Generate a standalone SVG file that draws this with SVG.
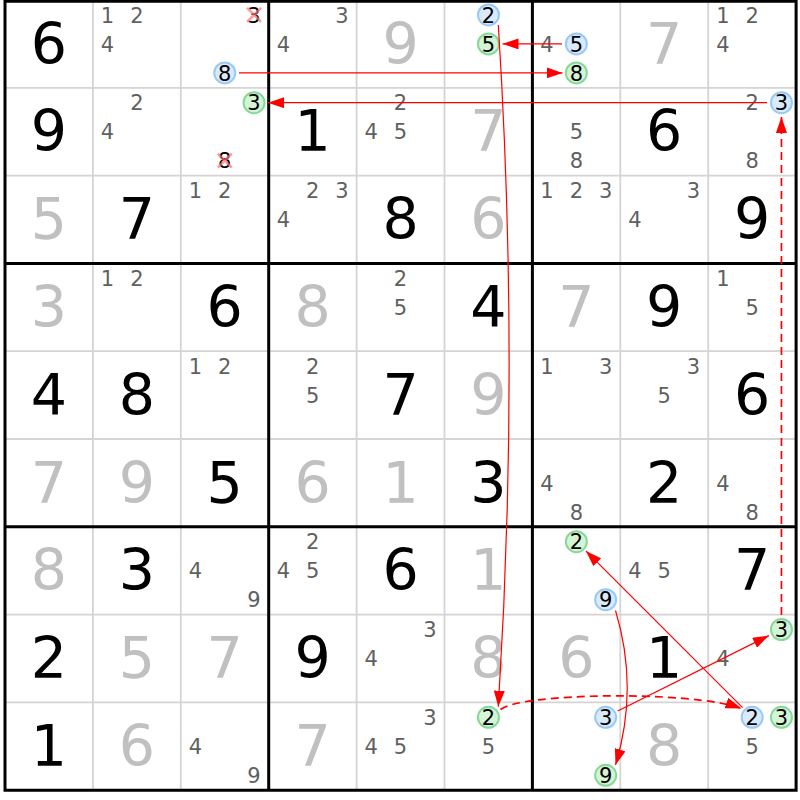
<svg xmlns="http://www.w3.org/2000/svg" width="800" height="800" viewBox="0 0 800 800">
<style>
text{font-family:"DejaVu Sans",Verdana,sans-serif;text-anchor:middle}
.g{font-size:57px;fill:#000}
.s{font-size:57px;fill:#c0c0c0}
.c{font-size:21px;fill:#606060}
.h{font-size:21px;fill:#000}
.cb{fill:#d8eafc;stroke:#99c9f5;stroke-width:2}
.cg{fill:#d4f4d6;stroke:#86d996;stroke-width:2}
.x{stroke:#ff7070;stroke-opacity:0.7;stroke-width:2.5}
.thin{stroke:#d4d4d4;stroke-width:1.8}
.thick{stroke:#000;stroke-width:3}
.ln{fill:none;stroke:#ff0000;stroke-width:1.2}
.dl{fill:none;stroke:#ff0000;stroke-width:1.7;stroke-dasharray:8 5}
</style>
<defs>
<marker id="ah" markerUnits="userSpaceOnUse" markerWidth="16" markerHeight="11" viewBox="0 0 16 11" refX="16" refY="5.5" orient="auto">
<path d="M0,0 L16,5.5 L0,11 z" fill="#ff0000"/>
</marker>
</defs>
<rect x="0" y="0" width="800" height="800" fill="#fff"/>
<g id="grid">
<path class="thin" d="M92.9,0V790.2M180.8,0V790.2M356.6,0V790.2M444.5,0V790.2M620.3,0V790.2M708.2,0V790.2M5,87.8H796.1M5,175.6H796.1M5,351.2H796.1M5,439H796.1M5,614.6H796.1M5,702.4H796.1"/>
<path class="thick" d="M5,0V791.7M268.7,0V790.2M532.4,0V790.2M796.1,0V791.7M3.5,1.2H797.6M5,263.4H796.1M5,526.8H796.1M3.5,790.2H797.6"/>
</g>
<g id="cells">
<g id="r0c0" transform="translate(5,0)"><text class="g" x="43.95" y="63.5">6</text></g>
<g id="r0c1" transform="translate(92.9,0)"><text class="c" x="14.65" y="22.5">1</text><text class="c" x="43.95" y="22.5">2</text><text class="c" x="14.65" y="51.5">4</text></g>
<g id="r0c2" transform="translate(180.8,0)"><text class="h" x="73.25" y="22.5">3</text><path class="x" d="M66.25,7.9L80.25,21.9M80.25,7.9L66.25,21.9"/><circle class="cb" cx="43.95" cy="72.9" r="10.5"/><text class="h" x="43.95" y="80.5">8</text></g>
<g id="r0c3" transform="translate(268.7,0)"><text class="c" x="73.25" y="22.5">3</text><text class="c" x="14.65" y="51.5">4</text></g>
<g id="r0c4" transform="translate(356.6,0)"><text class="s" x="43.95" y="63.5">9</text></g>
<g id="r0c5" transform="translate(444.5,0)"><circle class="cb" cx="43.95" cy="14.9" r="10.5"/><text class="h" x="43.95" y="22.5">2</text><circle class="cg" cx="43.95" cy="43.9" r="10.5"/><text class="h" x="43.95" y="51.5">5</text></g>
<g id="r0c6" transform="translate(532.4,0)"><text class="c" x="14.65" y="51.5">4</text><circle class="cb" cx="43.95" cy="43.9" r="10.5"/><text class="h" x="43.95" y="51.5">5</text><circle class="cg" cx="43.95" cy="72.9" r="10.5"/><text class="h" x="43.95" y="80.5">8</text></g>
<g id="r0c7" transform="translate(620.3,0)"><text class="s" x="43.95" y="63.5">7</text></g>
<g id="r0c8" transform="translate(708.2,0)"><text class="c" x="14.65" y="22.5">1</text><text class="c" x="43.95" y="22.5">2</text><text class="c" x="14.65" y="51.5">4</text></g>

<g id="r1c0" transform="translate(5,87.8)"><text class="g" x="43.95" y="63.5">9</text></g>
<g id="r1c1" transform="translate(92.9,87.8)"><text class="c" x="43.95" y="22.5">2</text><text class="c" x="14.65" y="51.5">4</text></g>
<g id="r1c2" transform="translate(180.8,87.8)"><circle class="cg" cx="73.25" cy="14.9" r="10.5"/><text class="h" x="73.25" y="22.5">3</text><text class="h" x="43.95" y="80.5">8</text><path class="x" d="M36.95,65.9L50.95,79.9M50.95,65.9L36.95,79.9"/></g>
<g id="r1c3" transform="translate(268.7,87.8)"><text class="g" x="43.95" y="63.5">1</text></g>
<g id="r1c4" transform="translate(356.6,87.8)"><text class="c" x="43.95" y="22.5">2</text><text class="c" x="14.65" y="51.5">4</text><text class="c" x="43.95" y="51.5">5</text></g>
<g id="r1c5" transform="translate(444.5,87.8)"><text class="s" x="43.95" y="63.5">7</text></g>
<g id="r1c6" transform="translate(532.4,87.8)"><text class="c" x="43.95" y="51.5">5</text><text class="c" x="43.95" y="80.5">8</text></g>
<g id="r1c7" transform="translate(620.3,87.8)"><text class="g" x="43.95" y="63.5">6</text></g>
<g id="r1c8" transform="translate(708.2,87.8)"><text class="c" x="43.95" y="22.5">2</text><circle class="cb" cx="73.25" cy="14.9" r="10.5"/><text class="h" x="73.25" y="22.5">3</text><text class="c" x="43.95" y="80.5">8</text></g>

<g id="r2c0" transform="translate(5,175.6)"><text class="s" x="43.95" y="63.5">5</text></g>
<g id="r2c1" transform="translate(92.9,175.6)"><text class="g" x="43.95" y="63.5">7</text></g>
<g id="r2c2" transform="translate(180.8,175.6)"><text class="c" x="14.65" y="22.5">1</text><text class="c" x="43.95" y="22.5">2</text></g>
<g id="r2c3" transform="translate(268.7,175.6)"><text class="c" x="43.95" y="22.5">2</text><text class="c" x="73.25" y="22.5">3</text><text class="c" x="14.65" y="51.5">4</text></g>
<g id="r2c4" transform="translate(356.6,175.6)"><text class="g" x="43.95" y="63.5">8</text></g>
<g id="r2c5" transform="translate(444.5,175.6)"><text class="s" x="43.95" y="63.5">6</text></g>
<g id="r2c6" transform="translate(532.4,175.6)"><text class="c" x="14.65" y="22.5">1</text><text class="c" x="43.95" y="22.5">2</text><text class="c" x="73.25" y="22.5">3</text></g>
<g id="r2c7" transform="translate(620.3,175.6)"><text class="c" x="73.25" y="22.5">3</text><text class="c" x="14.65" y="51.5">4</text></g>
<g id="r2c8" transform="translate(708.2,175.6)"><text class="g" x="43.95" y="63.5">9</text></g>

<g id="r3c0" transform="translate(5,263.4)"><text class="s" x="43.95" y="63.5">3</text></g>
<g id="r3c1" transform="translate(92.9,263.4)"><text class="c" x="14.65" y="22.5">1</text><text class="c" x="43.95" y="22.5">2</text></g>
<g id="r3c2" transform="translate(180.8,263.4)"><text class="g" x="43.95" y="63.5">6</text></g>
<g id="r3c3" transform="translate(268.7,263.4)"><text class="s" x="43.95" y="63.5">8</text></g>
<g id="r3c4" transform="translate(356.6,263.4)"><text class="c" x="43.95" y="22.5">2</text><text class="c" x="43.95" y="51.5">5</text></g>
<g id="r3c5" transform="translate(444.5,263.4)"><text class="g" x="43.95" y="63.5">4</text></g>
<g id="r3c6" transform="translate(532.4,263.4)"><text class="s" x="43.95" y="63.5">7</text></g>
<g id="r3c7" transform="translate(620.3,263.4)"><text class="g" x="43.95" y="63.5">9</text></g>
<g id="r3c8" transform="translate(708.2,263.4)"><text class="c" x="14.65" y="22.5">1</text><text class="c" x="43.95" y="51.5">5</text></g>

<g id="r4c0" transform="translate(5,351.2)"><text class="g" x="43.95" y="63.5">4</text></g>
<g id="r4c1" transform="translate(92.9,351.2)"><text class="g" x="43.95" y="63.5">8</text></g>
<g id="r4c2" transform="translate(180.8,351.2)"><text class="c" x="14.65" y="22.5">1</text><text class="c" x="43.95" y="22.5">2</text></g>
<g id="r4c3" transform="translate(268.7,351.2)"><text class="c" x="43.95" y="22.5">2</text><text class="c" x="43.95" y="51.5">5</text></g>
<g id="r4c4" transform="translate(356.6,351.2)"><text class="g" x="43.95" y="63.5">7</text></g>
<g id="r4c5" transform="translate(444.5,351.2)"><text class="s" x="43.95" y="63.5">9</text></g>
<g id="r4c6" transform="translate(532.4,351.2)"><text class="c" x="14.65" y="22.5">1</text><text class="c" x="73.25" y="22.5">3</text></g>
<g id="r4c7" transform="translate(620.3,351.2)"><text class="c" x="73.25" y="22.5">3</text><text class="c" x="43.95" y="51.5">5</text></g>
<g id="r4c8" transform="translate(708.2,351.2)"><text class="g" x="43.95" y="63.5">6</text></g>

<g id="r5c0" transform="translate(5,439)"><text class="s" x="43.95" y="63.5">7</text></g>
<g id="r5c1" transform="translate(92.9,439)"><text class="s" x="43.95" y="63.5">9</text></g>
<g id="r5c2" transform="translate(180.8,439)"><text class="g" x="43.95" y="63.5">5</text></g>
<g id="r5c3" transform="translate(268.7,439)"><text class="s" x="43.95" y="63.5">6</text></g>
<g id="r5c4" transform="translate(356.6,439)"><text class="s" x="43.95" y="63.5">1</text></g>
<g id="r5c5" transform="translate(444.5,439)"><text class="g" x="43.95" y="63.5">3</text></g>
<g id="r5c6" transform="translate(532.4,439)"><text class="c" x="14.65" y="51.5">4</text><text class="c" x="43.95" y="80.5">8</text></g>
<g id="r5c7" transform="translate(620.3,439)"><text class="g" x="43.95" y="63.5">2</text></g>
<g id="r5c8" transform="translate(708.2,439)"><text class="c" x="14.65" y="51.5">4</text><text class="c" x="43.95" y="80.5">8</text></g>

<g id="r6c0" transform="translate(5,526.8)"><text class="s" x="43.95" y="63.5">8</text></g>
<g id="r6c1" transform="translate(92.9,526.8)"><text class="g" x="43.95" y="63.5">3</text></g>
<g id="r6c2" transform="translate(180.8,526.8)"><text class="c" x="14.65" y="51.5">4</text><text class="c" x="73.25" y="80.5">9</text></g>
<g id="r6c3" transform="translate(268.7,526.8)"><text class="c" x="43.95" y="22.5">2</text><text class="c" x="14.65" y="51.5">4</text><text class="c" x="43.95" y="51.5">5</text></g>
<g id="r6c4" transform="translate(356.6,526.8)"><text class="g" x="43.95" y="63.5">6</text></g>
<g id="r6c5" transform="translate(444.5,526.8)"><text class="s" x="43.95" y="63.5">1</text></g>
<g id="r6c6" transform="translate(532.4,526.8)"><circle class="cg" cx="43.95" cy="14.9" r="10.5"/><text class="h" x="43.95" y="22.5">2</text><circle class="cb" cx="73.25" cy="72.9" r="10.5"/><text class="h" x="73.25" y="80.5">9</text></g>
<g id="r6c7" transform="translate(620.3,526.8)"><text class="c" x="14.65" y="51.5">4</text><text class="c" x="43.95" y="51.5">5</text></g>
<g id="r6c8" transform="translate(708.2,526.8)"><text class="g" x="43.95" y="63.5">7</text></g>

<g id="r7c0" transform="translate(5,614.6)"><text class="g" x="43.95" y="63.5">2</text></g>
<g id="r7c1" transform="translate(92.9,614.6)"><text class="s" x="43.95" y="63.5">5</text></g>
<g id="r7c2" transform="translate(180.8,614.6)"><text class="s" x="43.95" y="63.5">7</text></g>
<g id="r7c3" transform="translate(268.7,614.6)"><text class="g" x="43.95" y="63.5">9</text></g>
<g id="r7c4" transform="translate(356.6,614.6)"><text class="c" x="73.25" y="22.5">3</text><text class="c" x="14.65" y="51.5">4</text></g>
<g id="r7c5" transform="translate(444.5,614.6)"><text class="s" x="43.95" y="63.5">8</text></g>
<g id="r7c6" transform="translate(532.4,614.6)"><text class="s" x="43.95" y="63.5">6</text></g>
<g id="r7c7" transform="translate(620.3,614.6)"><text class="g" x="43.95" y="63.5">1</text></g>
<g id="r7c8" transform="translate(708.2,614.6)"><circle class="cg" cx="73.25" cy="14.9" r="10.5"/><text class="h" x="73.25" y="22.5">3</text><text class="c" x="14.65" y="51.5">4</text></g>

<g id="r8c0" transform="translate(5,702.4)"><text class="g" x="43.95" y="63.5">1</text></g>
<g id="r8c1" transform="translate(92.9,702.4)"><text class="s" x="43.95" y="63.5">6</text></g>
<g id="r8c2" transform="translate(180.8,702.4)"><text class="c" x="14.65" y="51.5">4</text><text class="c" x="73.25" y="80.5">9</text></g>
<g id="r8c3" transform="translate(268.7,702.4)"><text class="s" x="43.95" y="63.5">7</text></g>
<g id="r8c4" transform="translate(356.6,702.4)"><text class="c" x="73.25" y="22.5">3</text><text class="c" x="14.65" y="51.5">4</text><text class="c" x="43.95" y="51.5">5</text></g>
<g id="r8c5" transform="translate(444.5,702.4)"><circle class="cg" cx="43.95" cy="14.9" r="10.5"/><text class="h" x="43.95" y="22.5">2</text><text class="c" x="43.95" y="51.5">5</text></g>
<g id="r8c6" transform="translate(532.4,702.4)"><circle class="cb" cx="73.25" cy="14.9" r="10.5"/><text class="h" x="73.25" y="22.5">3</text><circle class="cg" cx="73.25" cy="72.9" r="10.5"/><text class="h" x="73.25" y="80.5">9</text></g>
<g id="r8c7" transform="translate(620.3,702.4)"><text class="s" x="43.95" y="63.5">8</text></g>
<g id="r8c8" transform="translate(708.2,702.4)"><circle class="cb" cx="43.95" cy="14.9" r="10.5"/><text class="h" x="43.95" y="22.5">2</text><circle class="cg" cx="73.25" cy="14.9" r="10.5"/><text class="h" x="73.25" y="22.5">3</text><text class="c" x="43.95" y="51.5">5</text></g>
</g>
<g id="connectors">
<path class="ln" d="M239,72.9H562.5" marker-end="url(#ah)"/>
<path class="ln" d="M767,102.7H268" marker-end="url(#ah)"/>
<path class="ln" d="M562,43.9H502.5" marker-end="url(#ah)"/>
<path class="ln" d="M498.3,25Q520,366 498.3,706.7" marker-end="url(#ah)"/>
<path class="dl" d="M500.5,709.5C520,693 690,690 741.5,708.5" marker-end="url(#ah)"/>
<path class="ln" d="M615.5,610.5Q639,688 615.5,765" marker-end="url(#ah)"/>
<path class="ln" d="M617.7,711L768.9,635.6" marker-end="url(#ah)"/>
<path class="ln" d="M742.6,707.6L585.9,550.9" marker-end="url(#ah)"/>
<path class="dl" d="M781.45,615V117" marker-end="url(#ah)"/>
</g>
</svg>
